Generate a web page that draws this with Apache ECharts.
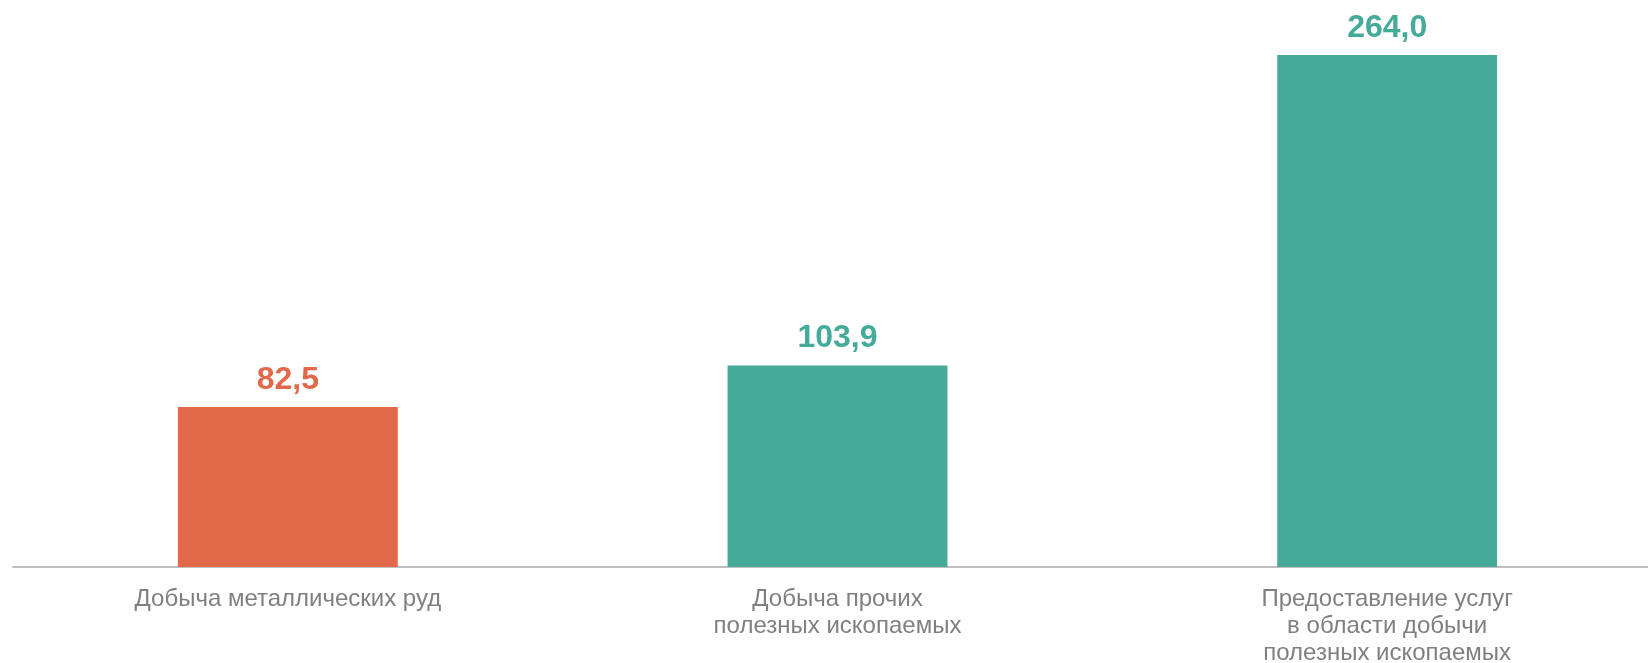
<!DOCTYPE html>
<html>
<head>
<meta charset="utf-8">
<script src="https://cdn.jsdelivr.net/npm/echarts@6/dist/echarts.min.js"></script>
<style>
  html, body { margin: 0; padding: 0; background: #fff; }
  #chart { width: 1648px; height: 663px; }
</style>
</head>
<body>
<div id="chart"></div>
<script>
// chart data
const categories = [
    'Добыча металлических руд',
    'Добыча прочих\nполезных ископаемых',
    'Предоставление услуг\nв области добычи\nполезных ископаемых'
];
const values = [82.5, 103.9, 264.0];
const barColors = ['#E2684A', '#46AA98', '#46AA98'];

const chart = echarts.init(document.getElementById('chart'));

let option = {
    animation: false,
    grid: {
        left: 13,
        right: -14,
        top: 55,
        bottom: 96,
        outerBoundsMode: 'none'
    },
    xAxis: {
        type: 'category',
        data: categories,
        axisLine: {
            lineStyle: { color: '#bfbfbf', width: 2 }
        },
        axisTick: { show: false },
        axisLabel: {
            color: '#808080',
            fontFamily: 'Liberation Sans',
            fontSize: 24,
            lineHeight: 27,
            margin: 19,
            interval: 0
        }
    },
    yAxis: {
        type: 'value',
        min: 0,
        max: 264,
        show: false
    },
    series: [
        {
            type: 'bar',
            barWidth: '40%',
            data: values.map((v, i) => ({
                value: v,
                itemStyle: { color: barColors[i] },
                label: { color: barColors[i] }
            })),
            label: {
                show: true,
                position: 'top',
                distance: 11,
                fontFamily: 'Liberation Sans',
                fontWeight: 'bold',
                fontSize: 32,
                formatter: p => p.value.toFixed(1).replace('.', ',')
            }
        }
    ]
};

chart.setOption(option);
</script>
</body>
</html>
